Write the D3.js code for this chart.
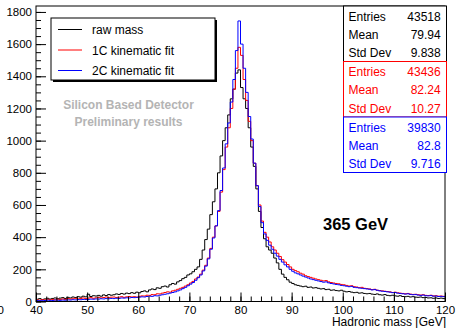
<!DOCTYPE html>
<html>
<head>
<meta charset="utf-8">
<script src="https://cdn.jsdelivr.net/npm/d3@7/dist/d3.min.js"></script>
<style>
  html, body { margin: 0; padding: 0; background: #fff; }
  svg { display: block; }
  text { font-family: "Liberation Sans", Arial, Helvetica, sans-serif; }
</style>
</head>
<body>
<svg id="chart" width="456" height="328"></svg>
<script>
// Hadronic mass histograms: 160 bins of 0.5 GeV between 40 and 120 GeV
const massMin = 40, massMax = 120, binWidth = 0.5;
const yMax = 1837;

// raw mass
const rawMass = [
  14, 18, 12, 16, 20, 15, 19, 22, 17, 21,
  24, 19, 26, 22, 28, 25, 30, 27, 33, 29,
  45, 31, 36, 34, 38, 33, 41, 37, 43, 39,
  42, 47, 44, 50, 46, 52, 49, 55, 51, 58,
  54, 62, 66, 60, 72, 78, 74, 85, 82, 92,
  96, 90, 104, 112, 108, 122, 130, 142, 150, 165,
  172, 185, 200, 215, 262, 320, 385, 450, 540, 620,
  700, 800, 905, 1000, 1080, 1160, 1260, 1320, 1420, 1440,
  1330, 1260, 1200, 1080, 960, 840, 700, 560, 460, 390,
  340, 320, 300, 270, 240, 200, 170, 150, 135, 120,
  112, 104, 100, 96, 92, 95, 88, 90, 84, 86,
  82, 78, 80, 74, 76, 70, 72, 68, 66, 70,
  64, 60, 62, 58, 55, 57, 52, 54, 50, 48,
  50, 46, 44, 47, 42, 40, 43, 38, 36, 39,
  35, 33, 36, 31, 30, 32, 28, 30, 27, 26,
  28, 24, 25, 22, 23, 20, 22, 19, 21, 18
];

// 1C kinematic fit
const fit1C = [
  10, 8, 12, 9, 14, 11, 13, 10, 15, 12,
  16, 13, 18, 15, 17, 20, 16, 19, 22, 18,
  21, 24, 20, 23, 26, 22, 25, 28, 24, 27,
  28, 25, 27, 30, 26, 29, 31, 28, 30, 27,
  32, 35, 34, 39, 38, 43, 42, 48, 47, 52,
  56, 60, 58, 66, 70, 76, 82, 88, 96, 104,
  115, 125, 140, 152, 170, 195, 225, 270, 330, 400,
  470, 560, 680, 820, 960, 1080, 1200, 1320, 1450, 1580,
  1530, 1380, 1250, 1120, 1000, 860, 720, 600, 500, 430,
  400, 370, 340, 320, 300, 280, 260, 245, 230, 215,
  200, 192, 185, 176, 170, 160, 155, 150, 145, 140,
  136, 132, 128, 130, 122, 118, 115, 112, 110, 106,
  104, 100, 96, 98, 92, 90, 86, 88, 82, 80,
  78, 74, 76, 70, 68, 66, 64, 62, 60, 56,
  58, 54, 52, 50, 48, 50, 46, 44, 45, 42,
  40, 42, 38, 37, 39, 35, 36, 33, 34, 32
];

// 2C kinematic fit
const fit2C = [
  6, 5, 7, 6, 8, 7, 6, 9, 8, 7,
  9, 8, 10, 9, 11, 10, 12, 11, 13, 12,
  13, 15, 14, 16, 15, 17, 16, 18, 17, 19,
  18, 20, 19, 22, 21, 23, 22, 25, 24, 26,
  27, 29, 28, 31, 33, 32, 36, 35, 39, 42,
  45, 48, 52, 56, 60, 66, 72, 80, 88, 98,
  108, 118, 132, 148, 165, 190, 220, 265, 325, 395,
  470, 565, 690, 830, 980, 1110, 1240, 1380, 1560, 1744,
  1600, 1450, 1300, 1150, 1010, 860, 720, 590, 490, 420,
  380, 350, 325, 300, 282, 262, 245, 228, 215, 200,
  188, 178, 172, 165, 158, 152, 146, 140, 136, 132,
  128, 124, 120, 122, 116, 112, 109, 106, 104, 100,
  98, 95, 92, 94, 88, 86, 84, 82, 80, 78,
  76, 72, 74, 70, 66, 64, 62, 60, 58, 55,
  56, 52, 50, 48, 46, 48, 44, 42, 43, 40,
  38, 40, 36, 35, 37, 33, 34, 31, 32, 30
];

const seriesNames = ["raw mass", "1C kinematic fit", "2C kinematic fit"];
const seriesColors = ["#000000", "#ff0000", "#0000ff"];
const seriesData = [rawMass, fit1C, fit2C];

// statistics boxes, one per histogram
const statLabels = ["Entries", "Mean", "Std Dev"];
const statValues = [
  ["43518", "79.94", "9.838"],
  ["43436", "82.24", "10.27"],
  ["39830", "82.8", "9.716"]
];

const xTicksMajor = [40, 50, 60, 70, 80, 90, 100, 110, 120];
const yTicksMajor = [0, 200, 400, 600, 800, 1000, 1200, 1400, 1600, 1800];

const svg = d3.select("#chart");
const frame = { left: 36, right: 445, top: 6, bottom: 301.5 };

const x = d3.scaleLinear().domain([massMin, massMax]).range([frame.left, frame.right]);
const y = d3.scaleLinear().domain([0, yMax]).range([frame.bottom, frame.top]);

// histograms as step outlines
const stepLine = d3.line()
  .x(d => x(d[0]))
  .y(d => y(d[1]))
  .curve(d3.curveStepAfter);

seriesData.forEach((vals, s) => {
  const pts = vals.map((v, i) => [massMin + i * binWidth, v]);
  pts.push([massMax, vals[vals.length - 1]]);
  svg.append("path")
    .attr("d", stepLine(pts))
    .attr("fill", "none")
    .attr("stroke", seriesColors[s])
    .attr("stroke-width", 1);
});

// frame
svg.append("rect")
  .attr("x", frame.left).attr("y", frame.top)
  .attr("width", frame.right - frame.left).attr("height", frame.bottom - frame.top)
  .attr("fill", "none").attr("stroke", "#000").attr("stroke-width", 1);

// x axis: major + minor ticks pointing into the frame
const xMinor = d3.range(massMin, massMax + 0.001, 2);
const gxMinor = svg.append("g").attr("transform", `translate(0,${frame.bottom})`)
  .call(d3.axisBottom(x).tickValues(xMinor).tickSize(-5).tickFormat(""));
const gx = svg.append("g").attr("transform", `translate(0,${frame.bottom})`)
  .call(d3.axisBottom(x).tickValues(xTicksMajor).tickSize(-9).tickPadding(4).tickFormat(d3.format("d")));

// y axis
const yMinor = d3.range(0, yMax, 50);
const gyMinor = svg.append("g").attr("transform", `translate(${frame.left},0)`)
  .call(d3.axisLeft(y).tickValues(yMinor).tickSize(-5).tickFormat(""));
const gy = svg.append("g").attr("transform", `translate(${frame.left},0)`)
  .call(d3.axisLeft(y).tickValues(yTicksMajor).tickSize(-10).tickPadding(4).tickFormat(d3.format("d")));

[gx, gy, gxMinor, gyMinor].forEach(g => {
  g.select(".domain").remove();
  g.selectAll("line").attr("stroke", "#000");
  g.selectAll("text").attr("font-size", "11.5px").attr("fill", "#000")
    .attr("font-family", "'Liberation Sans', Arial, sans-serif");
});

// stray clipped label at the lower left edge
svg.append("text").attr("x", 4).attr("y", 313.5)
  .attr("text-anchor", "end").attr("font-size", "11.5px").text("0");

// x axis title
svg.append("text").attr("x", 446).attr("y", 325.5)
  .attr("text-anchor", "end").attr("font-size", "12px").text("Hadronic mass [GeV]");

// legend with shadow
const leg = { x: 51, y: 18, w: 164, h: 62 };
svg.append("rect").attr("x", leg.x + 2).attr("y", leg.y + 2).attr("width", leg.w).attr("height", leg.h)
  .attr("fill", "#000");
svg.append("rect").attr("x", leg.x).attr("y", leg.y).attr("width", leg.w).attr("height", leg.h)
  .attr("fill", "#fff").attr("stroke", "#000").attr("stroke-width", 1);
seriesNames.forEach((name, i) => {
  const ly = 29.5 + i * 20.5;
  svg.append("line").attr("x1", 58).attr("x2", 82).attr("y1", ly).attr("y2", ly)
    .attr("stroke", seriesColors[i]).attr("stroke-width", 1);
  svg.append("text").attr("x", 92).attr("y", ly + 4.5).attr("font-size", "12px")
    .attr("fill", "#000").text(name);
});

// detector note
svg.append("text").attr("x", 128.5).attr("y", 109.3).attr("text-anchor", "middle")
  .attr("font-size", "12px").attr("font-weight", "bold").attr("fill", "#b4b4b4")
  .text("Silicon Based Detector");
svg.append("text").attr("x", 128.5).attr("y", 126).attr("text-anchor", "middle")
  .attr("font-size", "12px").attr("font-weight", "bold").attr("fill", "#b4b4b4")
  .text("Preliminary results");

// energy label
svg.append("text").attr("x", 323).attr("y", 229.5)
  .attr("font-size", "16.5px").attr("font-weight", "bold").attr("fill", "#000")
  .text("365 GeV");

// statistics boxes
const stat = { x: 343.5, y: 6, w: 103, h: 55.5, rowH: 18.4 };
statValues.forEach((vals, s) => {
  const top = stat.y + s * stat.h;
  svg.append("rect").attr("x", stat.x).attr("y", top).attr("width", stat.w).attr("height", stat.h)
    .attr("fill", "#fff").attr("stroke", seriesColors[s]).attr("stroke-width", 1);
  statLabels.forEach((lab, r) => {
    const by = top + 14.5 + r * stat.rowH;
    svg.append("text").attr("x", 348.5).attr("y", by).attr("font-size", "12px")
      .attr("fill", seriesColors[s]).text(lab);
    svg.append("text").attr("x", 440.7).attr("y", by).attr("font-size", "12px")
      .attr("text-anchor", "end").attr("fill", seriesColors[s]).text(vals[r]);
  });
});
</script>
</body>
</html>
